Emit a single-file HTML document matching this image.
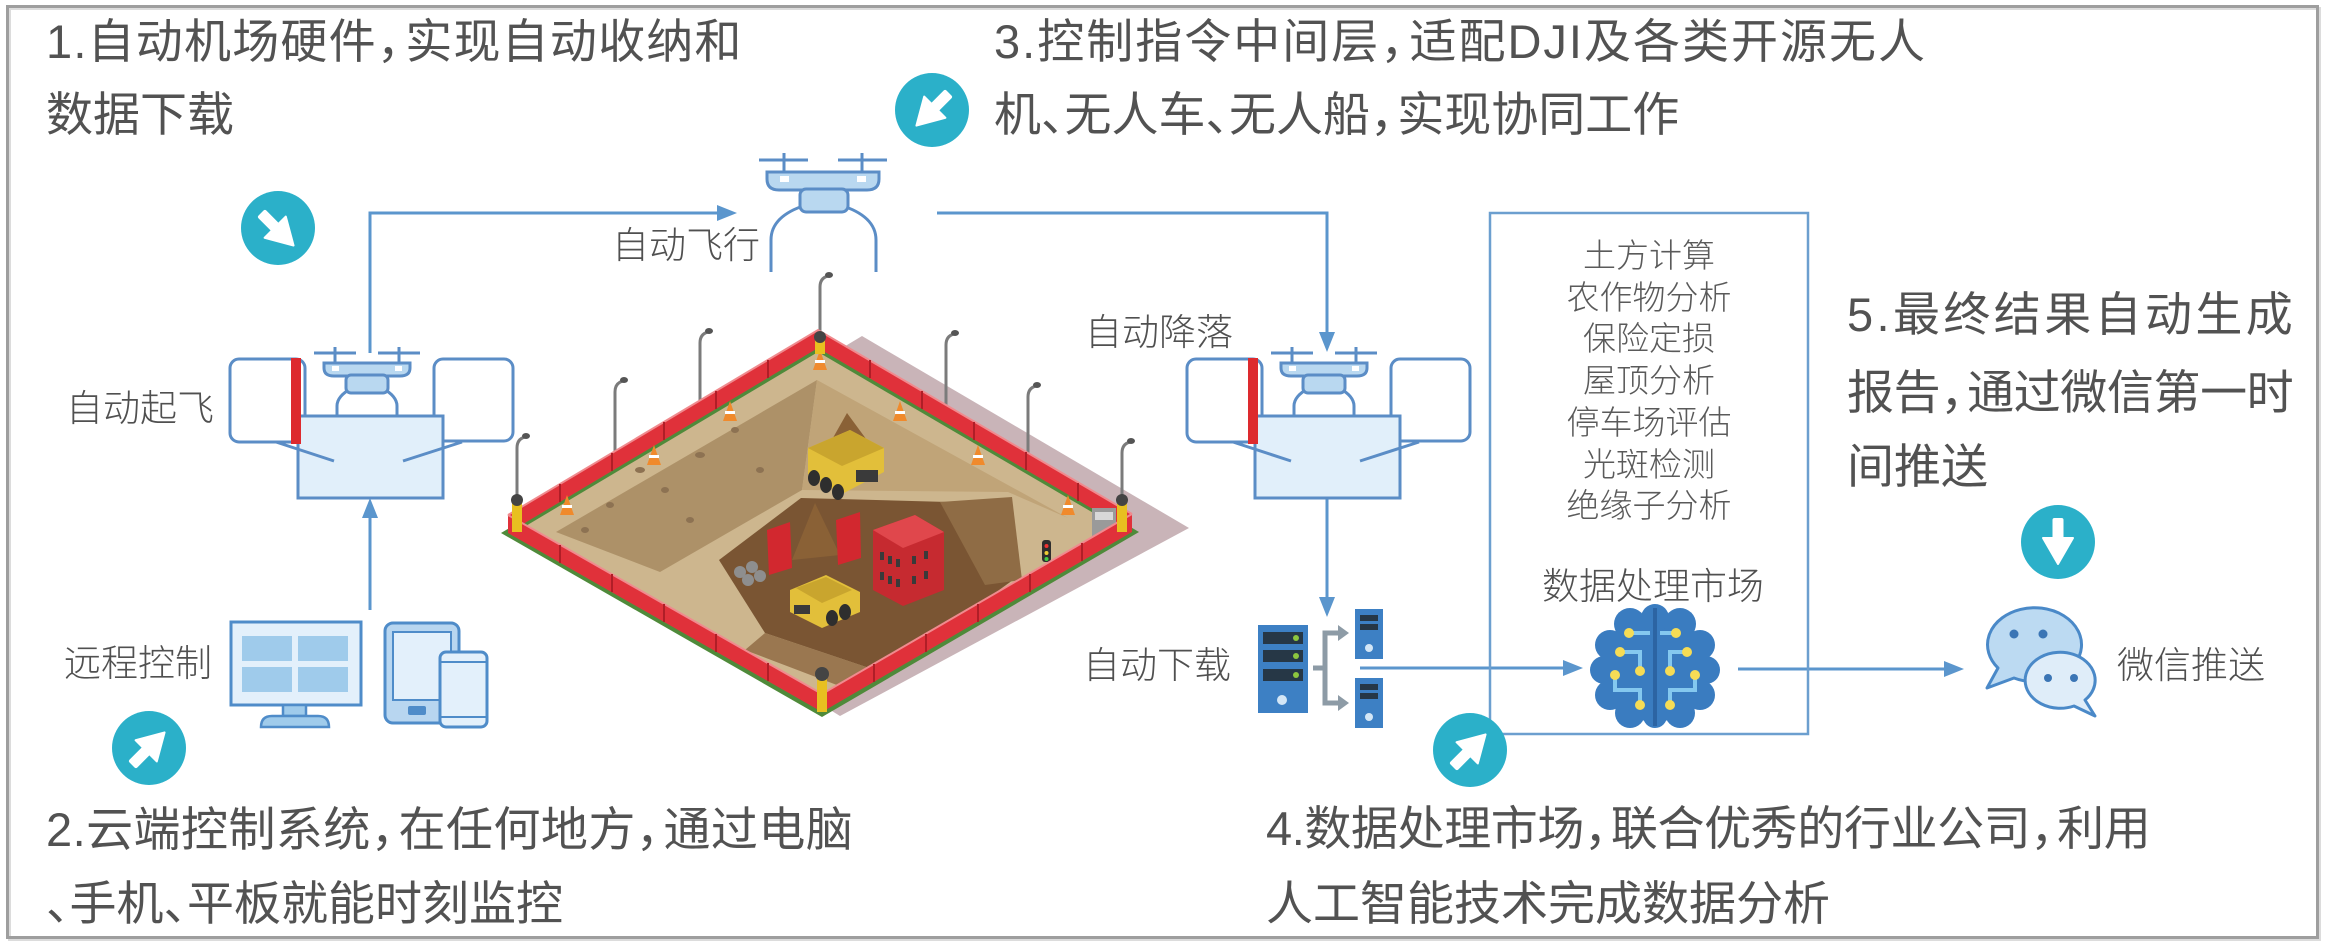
<!DOCTYPE html>
<html>
<head>
<meta charset="utf-8">
<style>
html,body{margin:0;padding:0;background:#fff;}
body{width:2326px;height:946px;position:relative;overflow:hidden;font-family:"Liberation Sans","Noto Sans CJK SC",sans-serif;}
svg{position:absolute;left:0;top:0;}
.t{position:absolute;font-size:47px;line-height:60px;color:#525252;white-space:nowrap;}
.c{margin-right:-0.42em;}
.d{margin-right:-0.5em;}
.l{position:absolute;font-size:37px;line-height:46px;color:#505050;font-weight:300;white-space:nowrap;}
.list{position:absolute;left:1490px;top:235px;width:318px;text-align:center;font-size:33px;line-height:41.7px;color:#5a5a5a;font-weight:300;white-space:nowrap;}
</style>
</head>
<body>
<svg width="2326" height="946" viewBox="0 0 2326 946" xmlns="http://www.w3.org/2000/svg">
  <!-- frame -->
  <rect x="9.5" y="8.5" width="2310" height="931" fill="none" stroke="#dcdcdc" stroke-width="3"/>
  <rect x="7.5" y="6.5" width="2310" height="931" fill="none" stroke="#9e9e9e" stroke-width="3"/>

  <!-- ===== construction site ===== -->
  <g id="site">
    <polygon points="862,336 1189,528 840,716 540,530" fill="#c9b4b8"/>
    <g stroke="#7b7b7b" stroke-width="3" fill="none" stroke-linecap="round">
      <path d="M700,407 V343 q0,-9 8,-11"/>
      <path d="M615,460 V392 q0,-9 8,-11"/>
      <path d="M946,413 V345 q0,-9 8,-11"/>
      <path d="M1028,460 V397 q0,-9 8,-11"/>
      <path d="M820,337 V287 q0,-9 8,-11"/>
      <path d="M517,500 V448 q0,-9 8,-11"/>
      <path d="M1122,500 V453 q0,-9 8,-11"/>
    </g>
    <g fill="#555">
      <ellipse cx="709" cy="331" rx="4" ry="3"/>
      <ellipse cx="624" cy="380" rx="4" ry="3"/>
      <ellipse cx="955" cy="333" rx="4" ry="3"/>
      <ellipse cx="1037" cy="385" rx="4" ry="3"/>
      <ellipse cx="829" cy="275" rx="4" ry="3"/>
      <ellipse cx="526" cy="436" rx="4" ry="3"/>
      <ellipse cx="1131" cy="441" rx="4" ry="3"/>
    </g>
    <polygon points="501,533 818,343 1139,532 822,717" fill="#4f8a3a"/>
    <polygon points="508,533 818,348 818,330 508,515" fill="#e0313a"/>
    <polygon points="818,348 1132,532 1132,514 818,330" fill="#e0313a"/>
    <polyline points="508,515 818,330 1132,514" fill="none" stroke="#f08a8e" stroke-width="2"/>
    <polygon points="514,533 818,352 1126,532 822,708" fill="#cdb68e"/>
    <polygon points="556,532 817,380 802,490 660,572" fill="#ad9168"/>
    <polygon points="817,380 1068,518 1008,492 802,490" fill="#c0a478"/>
    <polygon points="719,560 801,498 985,503 1013,580 884,673 765,633" fill="#7a5533"/>
    <polygon points="940,502 1012,497 1022,580 985,585" fill="#8f6c45"/>
    <polygon points="765,633 884,673 850,690 745,650" fill="#9a7750"/>
    <g fill="#8d7252">
      <ellipse cx="640" cy="470" rx="5" ry="3"/><ellipse cx="665" cy="490" rx="4" ry="3"/>
      <ellipse cx="700" cy="455" rx="5" ry="3"/><ellipse cx="610" cy="505" rx="4" ry="3"/>
      <ellipse cx="735" cy="430" rx="4" ry="3"/><ellipse cx="760" cy="470" rx="4" ry="3"/>
      <ellipse cx="690" cy="520" rx="4" ry="3"/><ellipse cx="585" cy="530" rx="4" ry="3"/>
    </g>
    <polygon points="792,560 815,503 840,555" fill="#8a6136"/>
    <polygon points="767,530 790,522 792,568 769,575" fill="#d2282f"/>
    <polygon points="836,520 860,512 861,558 838,565" fill="#d2282f"/>
    <g fill="#8e8e8e"><circle cx="740" cy="572" r="6"/><circle cx="752" cy="567" r="6"/><circle cx="748" cy="580" r="6"/><circle cx="760" cy="576" r="6"/></g>
    <polygon points="873,530 915,515 944,532 944,590 903,606 873,590" fill="#c62a30"/>
    <polygon points="873,530 915,515 944,532 903,548" fill="#e0474c"/>
    <g fill="#3a3a3a">
      <rect x="880" y="552" width="4" height="8"/><rect x="888" y="556" width="4" height="8"/><rect x="896" y="559" width="4" height="8"/>
      <rect x="880" y="572" width="4" height="8"/><rect x="888" y="576" width="4" height="8"/><rect x="896" y="579" width="4" height="8"/>
      <rect x="912" y="556" width="4" height="8"/><rect x="924" y="551" width="4" height="8"/>
      <rect x="912" y="576" width="4" height="8"/><rect x="924" y="571" width="4" height="8"/>
    </g>
    <polygon points="825,452 847,413 872,447" fill="#8a6136"/>
    <polygon points="808,448 850,430 884,448 884,472 842,494 808,474" fill="#e2bf3a"/>
    <polygon points="808,448 850,430 884,448 842,466" fill="#c9a52e"/>
    <rect x="856" y="470" width="22" height="12" fill="#3a3a3a"/>
    <g fill="#2e2e2e"><ellipse cx="814" cy="478" rx="6" ry="8"/><ellipse cx="826" cy="485" rx="6" ry="8"/><ellipse cx="838" cy="492" rx="6" ry="8"/></g>
    <polygon points="790,590 826,575 860,592 860,612 822,628 790,612" fill="#e2bf3a"/>
    <polygon points="796,588 826,577 852,590 822,603" fill="#c9a52e"/>
    <rect x="794" y="605" width="16" height="9" fill="#3a3a3a"/>
    <g fill="#2e2e2e"><ellipse cx="832" cy="618" rx="6" ry="8"/><ellipse cx="845" cy="612" rx="6" ry="8"/></g>
    <rect x="1092" y="508" width="24" height="28" fill="#9a9a9a"/>
    <rect x="1095" y="512" width="18" height="8" fill="#d8d8d8"/>
    <polygon points="1056,560 1098,540 1100,546 1058,566" fill="#ffffff" stroke="#d0303a" stroke-width="2" stroke-dasharray="5,4"/>
    <rect x="1042" y="540" width="9" height="22" rx="3" fill="#2e2e2e"/>
    <circle cx="1046.5" cy="546" r="2" fill="#e33"/><circle cx="1046.5" cy="553" r="2" fill="#ec3"/><circle cx="1046.5" cy="559" r="2" fill="#4c4"/>
    <polygon points="508,533 822,712 822,694 508,515" fill="#e0313a"/>
    <polygon points="822,712 1132,532 1132,514 822,694" fill="#e0313a"/>
    <polyline points="508,515 822,694 1132,514" fill="none" stroke="#f08a8e" stroke-width="2"/>
    <g stroke="#b01e27" stroke-width="2">
      <line x1="560" y1="563" x2="560" y2="545"/><line x1="612" y1="592" x2="612" y2="574"/>
      <line x1="664" y1="622" x2="664" y2="604"/><line x1="716" y1="652" x2="716" y2="634"/>
      <line x1="768" y1="681" x2="768" y2="663"/>
      <line x1="874" y1="682" x2="874" y2="664"/><line x1="926" y1="652" x2="926" y2="634"/>
      <line x1="978" y1="622" x2="978" y2="604"/><line x1="1030" y1="592" x2="1030" y2="574"/>
      <line x1="1082" y1="561" x2="1082" y2="543"/>
      <line x1="560" y1="502" x2="560" y2="484"/><line x1="612" y1="471" x2="612" y2="453"/>
      <line x1="664" y1="440" x2="664" y2="422"/><line x1="716" y1="409" x2="716" y2="391"/>
      <line x1="768" y1="378" x2="768" y2="360"/>
      <line x1="870" y1="378" x2="870" y2="360"/><line x1="922" y1="409" x2="922" y2="391"/>
      <line x1="974" y1="440" x2="974" y2="422"/><line x1="1026" y1="470" x2="1026" y2="452"/>
      <line x1="1078" y1="501" x2="1078" y2="483"/>
    </g>
    <g>
      <polygon points="813,370 827,370 820,350" fill="#f08a2c"/><rect x="815" y="360" width="10" height="3" fill="#fff"/>
      <polygon points="723,421 737,421 730,401" fill="#f08a2c"/><rect x="725" y="411" width="10" height="3" fill="#fff"/>
      <polygon points="647,465 661,465 654,445" fill="#f08a2c"/><rect x="649" y="455" width="10" height="3" fill="#fff"/>
      <polygon points="560,515 574,515 567,495" fill="#f08a2c"/><rect x="562" y="505" width="10" height="3" fill="#fff"/>
      <polygon points="893,421 907,421 900,401" fill="#f08a2c"/><rect x="895" y="411" width="10" height="3" fill="#fff"/>
      <polygon points="971,465 985,465 978,445" fill="#f08a2c"/><rect x="973" y="455" width="10" height="3" fill="#fff"/>
      <polygon points="1061,515 1075,515 1068,495" fill="#f08a2c"/><rect x="1063" y="505" width="10" height="3" fill="#fff"/>
    </g>
    <g>
      <rect x="815" y="338" width="10" height="16" fill="#e8c020"/><circle cx="820" cy="337" r="6" fill="#444"/>
      <rect x="512" y="502" width="10" height="30" fill="#e8c020"/><circle cx="517" cy="500" r="6" fill="#444"/>
      <rect x="1117" y="502" width="10" height="30" fill="#e8c020"/><circle cx="1122" cy="500" r="6" fill="#444"/>
      <rect x="817" y="676" width="10" height="36" fill="#e8c020"/><circle cx="822" cy="674" r="7" fill="#444"/>
    </g>
  </g>

  <!-- ===== connectors ===== -->
  <g stroke="#5b96cd" stroke-width="3" fill="none">
    <polyline points="370,353 370,213 718,213"/>
    <polyline points="937,213 1327,213 1327,333"/>
    <line x1="370" y1="610" x2="370" y2="517"/>
    <line x1="1327" y1="498" x2="1327" y2="598"/>
    <line x1="1360" y1="668" x2="1564" y2="668"/>
    <line x1="1738" y1="669" x2="1945" y2="669"/>
  </g>
  <g fill="#5b96cd">
    <polygon points="737,213 717,205 717,221"/>
    <polygon points="1327,352 1319,332 1335,332"/>
    <polygon points="370,498 362,518 378,518"/>
    <polygon points="1327,617 1319,597 1335,597"/>
    <polygon points="1583,668 1563,660 1563,676"/>
    <polygon points="1964,669 1944,661 1944,677"/>
  </g>

  <!-- ===== docks ===== -->
  <defs>
    <g id="dock">
      <rect x="230" y="359" width="75" height="83" rx="9" fill="#fff" stroke="#5b8dc6" stroke-width="3"/>
      <rect x="434" y="359" width="79" height="82" rx="9" fill="#fff" stroke="#5b8dc6" stroke-width="3"/>
      <rect x="298" y="416" width="145" height="82" fill="#e1effa" stroke="#5b8dc6" stroke-width="3"/>
      <line x1="276" y1="442" x2="334" y2="461" stroke="#5b8dc6" stroke-width="3"/>
      <line x1="462" y1="442" x2="403" y2="461" stroke="#5b8dc6" stroke-width="3"/>
      <rect x="291" y="358" width="10" height="86" fill="#dd2a2e"/>
      <g stroke="#5b8dc6" stroke-width="3" fill="none">
        <line x1="314" y1="353" x2="356" y2="353"/>
        <line x1="378" y1="353" x2="420" y2="353"/>
        <line x1="335" y1="347" x2="335" y2="364"/>
        <line x1="399" y1="347" x2="399" y2="364"/>
        <path d="M352,388 Q337,396 337,406 L337,416"/>
        <path d="M382,388 Q397,396 397,406 L397,416"/>
      </g>
      <path d="M324,363 H410 V368 Q410,376 400,376 H334 Q324,376 324,368 Z" fill="#b9d8f0" stroke="#5b8dc6" stroke-width="3"/>
      <rect x="346" y="375" width="42" height="18" rx="5" fill="#b9d8f0" stroke="#5b8dc6" stroke-width="3"/>
      <rect x="332" y="366" width="7" height="5" fill="#fff"/>
      <rect x="395" y="366" width="7" height="5" fill="#fff"/>
    </g>
  </defs>
  <use href="#dock"/>
  <use href="#dock" transform="translate(957,0)"/>

  <!-- flying drone -->
  <g stroke="#5b8dc6" stroke-width="3" fill="none">
    <line x1="759" y1="160" x2="808" y2="160"/>
    <line x1="838" y1="160" x2="887" y2="160"/>
    <line x1="784" y1="153" x2="784" y2="173"/>
    <line x1="862" y1="153" x2="862" y2="173"/>
    <path d="M806,205 Q771,216 771,240 L771,272"/>
    <path d="M840,205 Q876,216 876,240 L876,272"/>
  </g>
  <path d="M767,172 H879 V179 Q879,190 867,190 H779 Q767,190 767,179 Z" fill="#b9d8f0" stroke="#5b8dc6" stroke-width="3"/>
  <rect x="800" y="189" width="48" height="23" rx="6" fill="#b9d8f0" stroke="#5b8dc6" stroke-width="3"/>
  <rect x="780" y="176" width="9" height="6" fill="#fff"/>
  <rect x="857" y="176" width="9" height="6" fill="#fff"/>

  <!-- monitor / tablet / phone -->
  <rect x="231" y="622" width="130" height="83" fill="#e3f0fb" stroke="#4f8cc9" stroke-width="3"/>
  <g fill="#9fcbeb">
    <rect x="242" y="636" width="50" height="25"/><rect x="298" y="636" width="50" height="25"/>
    <rect x="242" y="667" width="50" height="25"/><rect x="298" y="667" width="50" height="25"/>
  </g>
  <rect x="283" y="705" width="23" height="11" fill="#9fcbeb" stroke="#4f8cc9" stroke-width="2.5"/>
  <path d="M261,727 Q261,716 272,716 H318 Q329,716 329,727 Z" fill="#9fcbeb" stroke="#4f8cc9" stroke-width="2.5"/>
  <rect x="385" y="623" width="74" height="100" rx="8" fill="#b8d6f0" stroke="#4f8cc9" stroke-width="3"/>
  <rect x="393" y="632" width="58" height="68" fill="#e3f0fb" stroke="#4f8cc9" stroke-width="2"/>
  <rect x="408" y="706" width="18" height="9" rx="2" fill="#4f8cc9"/>
  <rect x="440" y="652" width="47" height="75" rx="6" fill="#e3f0fb" stroke="#4f8cc9" stroke-width="3"/>
  <line x1="440" y1="662" x2="487" y2="662" stroke="#4f8cc9" stroke-width="2"/>
  <line x1="440" y1="717" x2="487" y2="717" stroke="#4f8cc9" stroke-width="2"/>

  <!-- servers -->
  <rect x="1258" y="625" width="50" height="88" fill="#3d80c4"/>
  <g fill="#263746"><rect x="1263" y="632" width="40" height="12"/><rect x="1263" y="650" width="40" height="12"/><rect x="1263" y="669" width="40" height="12"/></g>
  <g fill="#8cc63f"><circle cx="1296" cy="638" r="3"/><circle cx="1296" cy="656" r="3"/><circle cx="1296" cy="675" r="3"/></g>
  <circle cx="1282" cy="700" r="5" fill="#d3e6f6"/>
  <rect x="1355" y="609" width="28" height="50" fill="#3d80c4"/>
  <rect x="1360" y="615" width="18" height="6" fill="#263746"/><rect x="1360" y="624" width="18" height="6" fill="#263746"/>
  <circle cx="1369" cy="648" r="4" fill="#d3e6f6"/>
  <rect x="1355" y="678" width="28" height="50" fill="#3d80c4"/>
  <rect x="1360" y="684" width="18" height="6" fill="#263746"/><rect x="1360" y="693" width="18" height="6" fill="#263746"/>
  <circle cx="1369" cy="717" r="4" fill="#d3e6f6"/>
  <g stroke="#8d9ba6" stroke-width="5" fill="none">
    <polyline points="1340,633 1325,633 1325,703 1340,703"/>
    <line x1="1313" y1="668" x2="1325" y2="668"/>
  </g>
  <polygon points="1349,633 1338,625 1338,641" fill="#8d9ba6"/>
  <polygon points="1349,703 1338,695 1338,711" fill="#8d9ba6"/>

  <!-- data box -->
  <rect x="1490" y="213" width="318" height="521" fill="none" stroke="#6c9fcf" stroke-width="2.5"/>

  <!-- brain -->
  <g fill="#3a7cc0">
    <ellipse cx="1655" cy="668" rx="50" ry="54"/>
    <circle cx="1630" cy="624" r="16"/><circle cx="1655" cy="618" r="14"/><circle cx="1680" cy="624" r="16"/>
    <circle cx="1610" cy="645" r="15"/><circle cx="1700" cy="645" r="15"/>
    <circle cx="1604" cy="670" r="14"/><circle cx="1706" cy="670" r="14"/>
    <circle cx="1610" cy="695" r="15"/><circle cx="1700" cy="695" r="15"/>
    <circle cx="1630" cy="713" r="15"/><circle cx="1680" cy="713" r="15"/><circle cx="1655" cy="716" r="12"/>
  </g>
  <line x1="1655" y1="608" x2="1655" y2="726" stroke="#2c64a3" stroke-width="4"/>
  <g stroke="#84c8ef" stroke-width="4" fill="none">
    <polyline points="1629,633 1650,633"/><polyline points="1676,633 1660,633"/>
    <polyline points="1620,652 1640,652 1640,671"/><polyline points="1687,652 1670,652 1670,671"/>
    <polyline points="1615,675 1615,690 1640,690 1640,705"/><polyline points="1695,675 1695,690 1670,690 1670,705"/>
  </g>
  <g fill="#f6dc55">
    <circle cx="1629" cy="633" r="5"/><circle cx="1676" cy="633" r="5"/>
    <circle cx="1620" cy="652" r="5"/><circle cx="1687" cy="652" r="5"/>
    <circle cx="1615" cy="675" r="5"/><circle cx="1640" cy="671" r="5"/><circle cx="1670" cy="671" r="5"/><circle cx="1695" cy="675" r="5"/>
    <circle cx="1640" cy="705" r="5"/><circle cx="1670" cy="705" r="5"/>
  </g>

  <!-- wechat -->
  <path d="M1998,668 A47,37 0 1 1 2014,678 L1987,688 Z" fill="#bcdaf2" stroke="#4a89c8" stroke-width="3" stroke-linejoin="round"/>
  <circle cx="2014" cy="634" r="4.5" fill="#3b75b5"/><circle cx="2043" cy="634" r="4.5" fill="#3b75b5"/>
  <path d="M2085,700 A35,28 0 1 0 2074,706 L2095,716 Z" fill="#dfedf9" stroke="#4a89c8" stroke-width="3" stroke-linejoin="round"/>
  <circle cx="2048" cy="678" r="4" fill="#3b75b5"/><circle cx="2074" cy="678" r="4" fill="#3b75b5"/>

  <!-- teal badges -->
  <defs>
    <g id="arr"><rect x="-5.5" y="-24" width="11" height="24" rx="2" fill="#fff"/><polygon points="-15,-4 15,-4 0,22" fill="#fff" stroke="#fff" stroke-width="2" stroke-linejoin="round"/></g>
  </defs>
  <circle cx="278" cy="228" r="37" fill="#2bb0c9"/>
  <use href="#arr" transform="translate(278,230) rotate(-45)"/>
  <circle cx="149" cy="748" r="37" fill="#2bb0c9"/>
  <use href="#arr" transform="translate(149,748) rotate(-135)"/>
  <circle cx="932" cy="110" r="37" fill="#2bb0c9"/>
  <use href="#arr" transform="translate(932,110) rotate(45)"/>
  <circle cx="1470" cy="750" r="37" fill="#2bb0c9"/>
  <use href="#arr" transform="translate(1470,750) rotate(-135)"/>
  <circle cx="2058" cy="542" r="37" fill="#2bb0c9"/>
  <use href="#arr" transform="translate(2058,542)"/>
</svg>

<!-- main texts -->
<div class="t" style="left:46px;top:12px;letter-spacing:1.2px;">1.自动机场硬件<span class="c">，</span>实现自动收纳和</div>
<div class="t" style="left:46px;top:85px;">数据下载</div>

<div class="t" style="left:994px;top:12px;letter-spacing:2px;">3.控制指令中间层<span class="c">，</span>适配DJI及各类开源无人</div>
<div class="t" style="left:994px;top:85px;">机<span class="d">、</span>无人车<span class="d">、</span>无人船<span class="c">，</span>实现协同工作</div>

<div class="t" style="left:1847px;top:285px;letter-spacing:3.4px;">5.最终结果自动生成</div>
<div class="t" style="left:1847px;top:363px;letter-spacing:-0.4px;">报告<span class="c">，</span>通过微信第一时</div>
<div class="t" style="left:1847px;top:437px;">间推送</div>

<div class="t" style="left:46px;top:800px;letter-spacing:0.45px;">2.云端控制系统<span class="c">，</span>在任何地方<span class="c">，</span>通过电脑</div>
<div class="t" style="left:46px;top:874px;"><span class="d">、</span>手机<span class="d">、</span>平板就能时刻监控</div>

<div class="t" style="left:1266px;top:799px;letter-spacing:-0.4px;">4.数据处理市场<span class="c">，</span>联合优秀的行业公司<span class="c">，</span>利用</div>
<div class="t" style="left:1266px;top:874px;">人工智能技术完成数据分析</div>

<!-- labels -->
<div class="l" style="left:612px;top:223px;">自动飞行</div>
<div class="l" style="left:66px;top:386px;">自动起飞</div>
<div class="l" style="left:64px;top:641px;">远程控制</div>
<div class="l" style="left:1085px;top:310px;">自动降落</div>
<div class="l" style="left:1083px;top:643px;">自动下载</div>
<div class="l" style="left:2117px;top:643px;">微信推送</div>
<div class="l" style="left:1533px;top:564px;width:240px;text-align:center;">数据处理市场</div>

<div class="list">土方计算<br>农作物分析<br>保险定损<br>屋顶分析<br>停车场评估<br>光斑检测<br>绝缘子分析</div>
</body>
</html>
